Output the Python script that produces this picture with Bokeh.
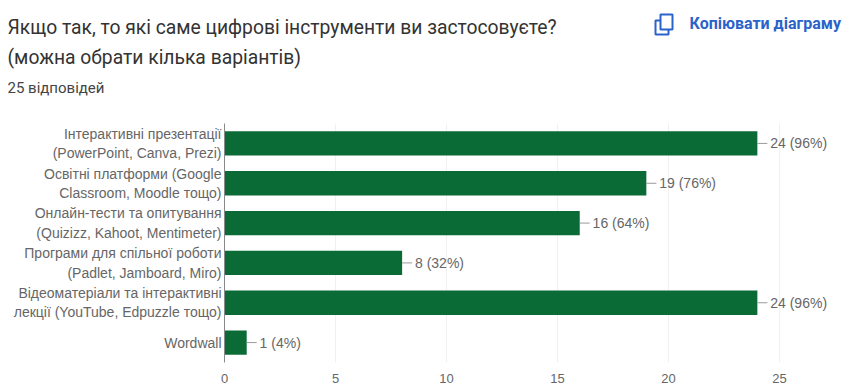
from bokeh.core.properties import value
from bokeh.embed import file_html
from bokeh.layouts import column, row
from bokeh.models import ColumnDataSource, FactorRange, LabelSet, Range1d
from bokeh.plotting import figure
from bokeh.resources import INLINE

# Survey answers, top to bottom
categories = [
    "Інтерактивні презентації\n(PowerPoint, Canva, Prezi)",
    "Освітні платформи (Google\nClassroom, Moodle тощо)",
    "Онлайн-тести та опитування\n(Quizizz, Kahoot, Mentimeter)",
    "Програми для спільної роботи\n(Padlet, Jamboard, Miro)",
    "Відеоматеріали та інтерактивні\nлекції (YouTube, Edpuzzle тощо)",
    "Wordwall",
]
counts = [24, 19, 16, 8, 24, 1]
percents = [96, 76, 64, 32, 96, 4]
x_ticks = [0, 5, 10, 15, 20, 25]

question_lines = [
    "Якщо так, то які саме цифрові інструменти ви застосовуєте?",
    "(можна обрати кілька варіантів)",
]
responses_text = "25 відповідей"
copy_text = "Копіювати діаграму"

AXIS_FONT = "Liberation Sans"
HEAD_FONT = "Roboto"
GREEN = "#0b6b37"
GREY = "#666666"
BLUE = "#2a63c9"
HEADER_H = 123

# Header strip: its ranges run in page pixels, with y growing downward
head = figure(
    width=849, height=HEADER_H, output_backend="svg", toolbar_location=None,
    x_range=Range1d(0, 849), y_range=Range1d(HEADER_H, 0),
    min_border=0, outline_line_color=None, border_fill_color="white",
)
head.axis.visible = False
head.grid.visible = False


def heading(x, y, text, size, color, weight="normal"):
    head.text(
        x=[x], y=[y], text=[text], text_baseline="middle",
        text_font=value(HEAD_FONT), text_font_size=size,
        text_color=color, text_font_style=weight,
    )


heading(7, 27, question_lines[0], "19.3px", "#333333")
heading(7, 57, question_lines[1], "19.3px", "#333333")
heading(7, 87, responses_text, "15px", "#444444")
heading(689, 23, copy_text, "16px", BLUE, "bold")

# Copy icon: two overlapping outlines, the front one filled white
head.quad(left=[655], right=[668], top=[20], bottom=[34],
          fill_color=None, line_color=BLUE, line_width=2)
head.quad(left=[660], right=[672], top=[14], bottom=[29],
          fill_color="white", line_color=BLUE, line_width=2)

# Bar chart
src = ColumnDataSource(dict(
    cat=categories,
    n=counts,
    stem=[c + 0.45 for c in counts],
    text_x=[c + 0.58 for c in counts],
    label=[f"{c} ({q}%)" for c, q in zip(counts, percents)],
))

p = figure(
    width=849, height=385 - HEADER_H, output_backend="svg", toolbar_location=None,
    x_range=Range1d(0, 28.15), y_range=FactorRange(factors=categories[::-1]),
    min_border_left=224, min_border_right=0, min_border_top=0, min_border_bottom=23,
    outline_line_color=None, background_fill_color="white", border_fill_color="white",
)
p.y_range.range_padding = 0

p.xgrid.grid_line_color = "#f0f0f0"
p.ygrid.grid_line_color = None
p.xaxis.ticker = x_ticks
p.xaxis.axis_line_color = None
p.xaxis.major_tick_line_color = None
p.xaxis.minor_tick_line_color = None
p.xaxis.major_tick_out = 0
p.xaxis.major_label_text_font = AXIS_FONT
p.xaxis.major_label_text_font_size = "13px"
p.xaxis.major_label_text_color = GREY
p.xaxis.major_label_standoff = 11

p.yaxis.axis_line_color = "#8a8a8a"
p.yaxis.axis_line_width = 1
p.yaxis.major_tick_line_color = None
p.yaxis.minor_tick_line_color = None
p.yaxis.major_tick_out = 0
p.yaxis.major_label_text_font = AXIS_FONT
p.yaxis.major_label_text_font_size = "14px"
p.yaxis.major_label_text_color = GREY
p.yaxis.major_label_standoff = 3

p.hbar(y="cat", left=0, right="n", height=0.61, source=src, fill_color=GREEN, line_color=None)
p.segment(x0="n", x1="stem", y0="cat", y1="cat", source=src, line_color="#9a9a9a", line_width=1)
p.add_layout(LabelSet(
    x="text_x", y="cat", text="label", source=src, text_baseline="middle",
    text_font=value(AXIS_FONT), text_font_size="14px", text_color=GREY,
))

# The header sits in its own row so its frame is not lined up with the chart's frame
page = column(row(head, spacing=0), row(p, spacing=0), spacing=0)
open("out.html", "w").write(file_html(page, INLINE))
